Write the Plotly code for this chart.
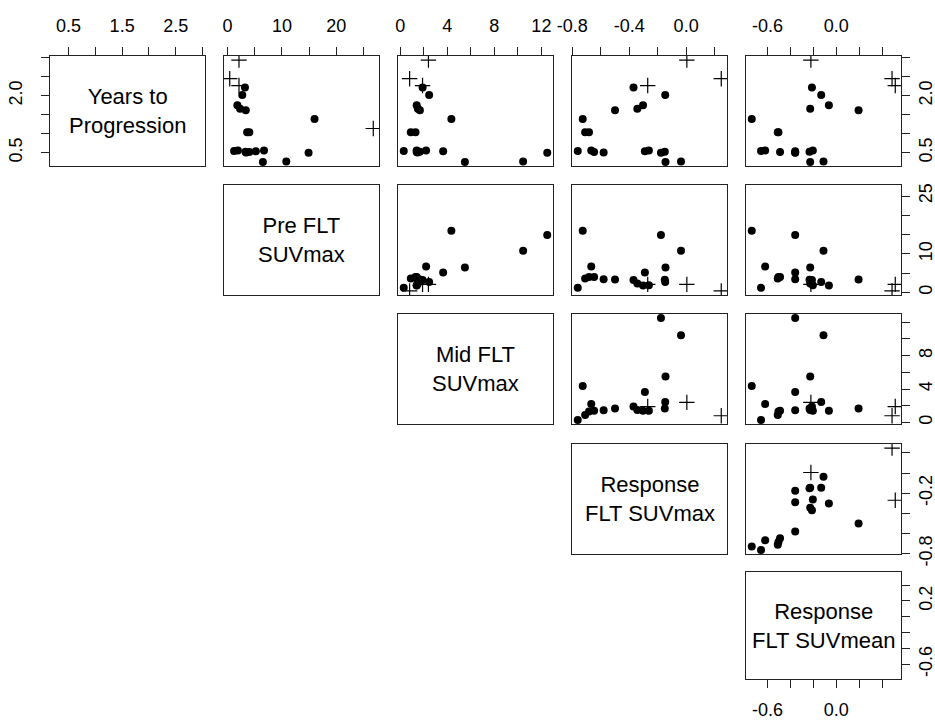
import plotly.graph_objects as go

# ---- data (one entry per patient) ----
years = [2.45, 2.94, 2.27, 1.14, 2.22, 2.02, 1.75, 1.66, 1.62, 1.39, 1.04, 1.04,
         0.55, 0.56, 0.52, 0.51, 0.54, 0.56, 0.50, 0.53, 0.26, 0.27]
pre_suvmax = [0.4, 2.1, 2.1, 26.8, 3.2, 2.7, 1.8, 2.3, 3.35, 16.0, 4.0, 3.6,
              1.2, 6.7, 4.0, 3.4, 5.2, 1.9, 14.9, 3.3, 6.5, 10.8]
mid_suvmax = [0.8, 2.4, 1.9, None, 1.9, 2.46, 1.4, 1.5, 1.67, 4.35, 1.3, 0.9,
              0.3, 2.2, 1.4, 1.47, 3.65, 1.4, 12.5, 1.67, 5.5, 10.45]
resp_suvmax = [0.247, 0.005, -0.27, None, -0.37, -0.147, -0.303, -0.343, -0.50, -0.727, -0.683, -0.71,
               -0.762, -0.667, -0.647, -0.58, -0.29, -0.262, -0.177, -0.15, -0.145, -0.036]
resp_suvmean = [0.487, -0.221, 0.515, None, -0.212, -0.131, -0.064, -0.227, 0.195, -0.737, -0.504, -0.51,
                -0.656, -0.62, -0.49, -0.358, -0.358, -0.204, -0.358, -0.233, -0.227, -0.111]
censored = [1, 1, 1, 1, 0, 0, 0, 0, 0, 0, 0, 0,
            0, 0, 0, 0, 0, 0, 0, 0, 0, 0]

var_labels = ["Years to<br>Progression", "Pre FLT<br>SUVmax", "Mid FLT<br>SUVmax",
              "Response<br>FLT SUVmax", "Response<br>FLT SUVmean"]

tick_vals = [[0.5, 1.0, 1.5, 2.0, 2.5, 3.0],
             [0, 5, 10, 15, 20, 25],
             [0, 2, 4, 6, 8, 10, 12],
             [-0.8, -0.6, -0.4, -0.2, 0.0, 0.2],
             [-0.6, -0.4, -0.2, 0.0, 0.2, 0.4]]
top_text = [["0.5", "", "1.5", "", "2.5", ""],
            ["0", "", "10", "", "20", ""],
            ["0", "", "4", "", "8", "", "12"],
            ["-0.8", "", "-0.4", "", "0.0", ""],
            ["-0.6", "", "", "0.0", "", ""]]
side_text = [["0.5", "", "", "2.0", "", ""],
             ["0", "", "10", "", "", "25"],
             ["0", "", "4", "", "8", "", ""],
             ["-0.8", "", "", "-0.2", "", ""],
             ["-0.6", "", "", "", "0.2", ""]]
bottom_text_last = ["-0.6", "", "", "0.0", "", ""]

variables = [years, pre_suvmax, mid_suvmax, resp_suvmax, resp_suvmean]

W, H = 935, 723
col_x0 = [50, 224, 398, 572, 746]
row_y0 = [56, 185, 314, 444, 572]
PW, PH = 155, 110
FONT = "Liberation Sans, Arial, sans-serif"
LINE = "#222222"


def vrange(v):
    vals = [a for a in v if a is not None]
    lo, hi = min(vals), max(vals)
    e = 0.04 * (hi - lo)
    return [lo - e, hi + e]


ranges = [vrange(v) for v in variables]

fig = go.Figure()
layout = dict(width=W, height=H, margin=dict(l=0, r=0, t=0, b=0),
              paper_bgcolor="white", plot_bgcolor="white", showlegend=False,
              font=dict(family=FONT, color="black"))
annotations = []

k = 0
for i in range(5):
    for j in range(i, 5):
        k += 1
        sfx = "" if k == 1 else str(k)
        x0 = col_x0[j]
        y0 = row_y0[i]
        ph = PH - 3 if i == 4 else PH
        xdom = [x0 / W, (x0 + PW) / W]
        ydom = [1 - (y0 + ph) / H, 1 - y0 / H]

        # x axis
        xa = dict(domain=xdom, range=ranges[j], anchor="y" + sfx, automargin=False,
                  showline=True, mirror=True, linecolor=LINE, linewidth=1,
                  showgrid=False, zeroline=False, fixedrange=True,
                  tickvals=tick_vals[j], tickfont=dict(size=18, family=FONT, color="black"),
                  ticklen=8, tickwidth=1, tickcolor=LINE)
        if i == 0:
            xa.update(side="top", ticks="outside", ticktext=top_text[j], showticklabels=True,
                      ticklabelstandoff=8)
        elif i == 4 and j == 4:
            xa.update(side="bottom", ticks="outside", ticktext=bottom_text_last, showticklabels=True,
                      ticklabelstandoff=6)
        else:
            xa.update(ticks="", showticklabels=False)
        layout["xaxis" + sfx] = xa

        # y axis
        ya = dict(domain=ydom, range=ranges[i], anchor="x" + sfx, automargin=False,
                  showline=True, mirror=True, linecolor=LINE, linewidth=1,
                  showgrid=False, zeroline=False, fixedrange=True,
                  tickvals=tick_vals[i], tickfont=dict(size=18, family=FONT, color="black"),
                  ticklen=8, tickwidth=1, tickcolor=LINE, tickangle=-90)
        if j == 4:
            ya.update(side="right", ticks="outside", ticktext=side_text[i], showticklabels=True,
                      ticklabelstandoff=0)
        elif j == 0:
            ya.update(side="left", ticks="outside", ticktext=side_text[i], showticklabels=True,
                      ticklabelstandoff=12)
        else:
            ya.update(ticks="", showticklabels=False)
        layout["yaxis" + sfx] = ya

        if i == j:
            # invisible trace so the diagonal panel's frame and axes are drawn
            fig.add_trace(go.Scatter(x=[sum(ranges[j]) / 2], y=[sum(ranges[i]) / 2], mode="markers",
                                     xaxis="x" + sfx, yaxis="y" + sfx,
                                     marker=dict(size=1, opacity=0), hoverinfo="skip"))
            annotations.append(dict(text=var_labels[i], x=(x0 + PW / 2) / W, y=1 - (y0 + ph / 2) / H,
                                    xref="paper", yref="paper", showarrow=False,
                                    font=dict(size=22, family=FONT, color="black"),
                                    align="center", xanchor="center", yanchor="middle"))
        else:
            xs_d, ys_d, xs_c, ys_c = [], [], [], []
            for xv, yv, c in zip(variables[j], variables[i], censored):
                if xv is None or yv is None:
                    continue
                if c:
                    xs_c.append(xv); ys_c.append(yv)
                else:
                    xs_d.append(xv); ys_d.append(yv)
            fig.add_trace(go.Scatter(x=xs_d, y=ys_d, mode="markers", xaxis="x" + sfx, yaxis="y" + sfx,
                                     marker=dict(symbol="circle", size=8, color="black",
                                                 line=dict(width=0)),
                                     hoverinfo="skip"))
            fig.add_trace(go.Scatter(x=xs_c, y=ys_c, mode="markers", xaxis="x" + sfx, yaxis="y" + sfx,
                                     marker=dict(symbol="cross-thin", size=11, color="black",
                                                 line=dict(width=1.2, color="black")),
                                     hoverinfo="skip"))

layout["annotations"] = annotations
fig.update_layout(**layout)
fig.write_html("out.html")
